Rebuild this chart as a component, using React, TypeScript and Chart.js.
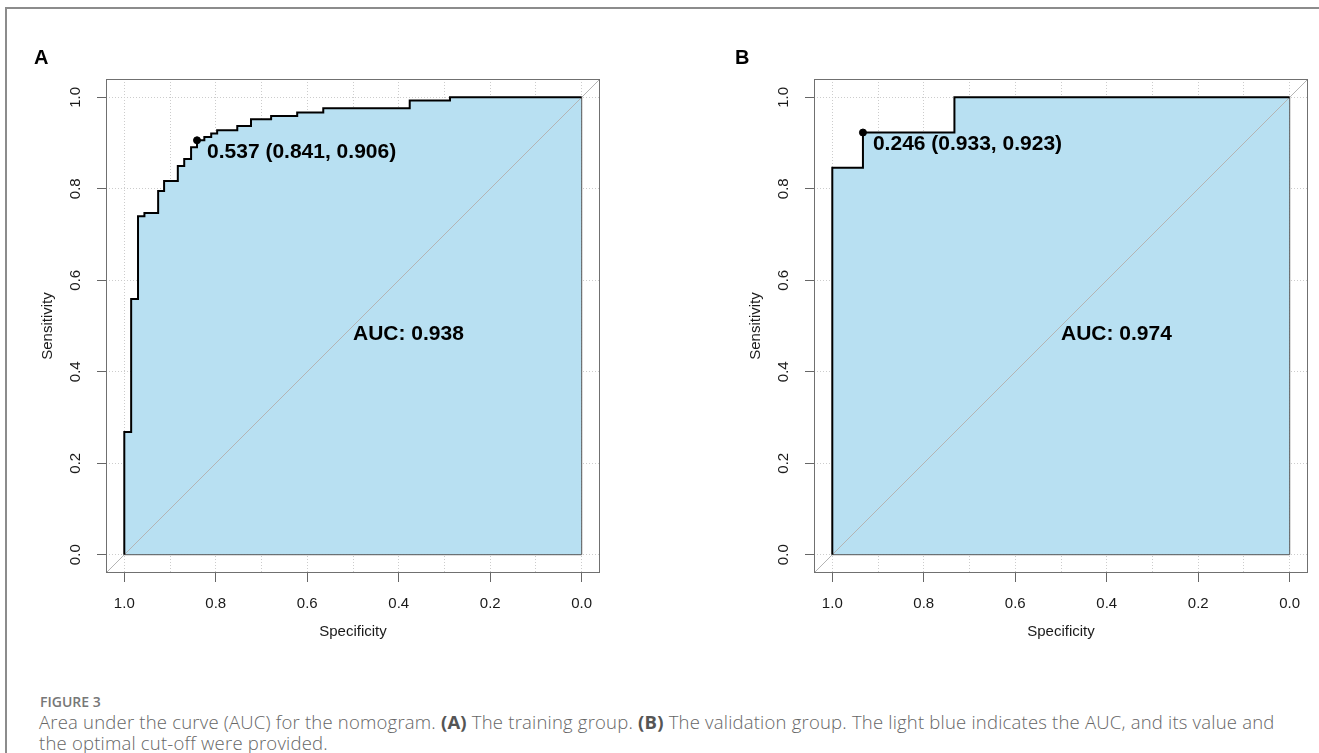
import React, { useEffect, useRef } from 'react';
import { Chart, registerables } from 'chart.js';

Chart.register(...registerables);

// ---------- data ----------
const TRAIN_SPECIFICITY = [1, 1, 0.985, 0.97, 0.956, 0.926, 0.913, 0.883, 0.869, 0.854, 0.841, 0.825, 0.81, 0.797, 0.753, 0.723, 0.679, 0.622, 0.565, 0.376, 0.288, 0];
const TRAIN_SENSITIVITY = [0, 0.268, 0.559, 0.74, 0.747, 0.795, 0.817, 0.85, 0.865, 0.891, 0.906, 0.913, 0.921, 0.928, 0.937, 0.952, 0.959, 0.967, 0.976, 0.993, 1, 1];
const VALID_SPECIFICITY = [1, 1, 0.933, 0.733, 0];
const VALID_SENSITIVITY = [0, 0.846, 0.923, 1, 1];

const PANEL_LABELS = ['A', 'B'];
const AUC_VALUES = [0.938, 0.974];
const CUTOFF_VALUES = [0.537, 0.246];
const CUTOFF_SPECIFICITY = [0.841, 0.933];
const CUTOFF_SENSITIVITY = [0.906, 0.923];

const AXIS_TICKS = [0, 0.2, 0.4, 0.6, 0.8, 1.0];
const X_GRID_TICKS = [0, 0.1, 0.2, 0.3, 0.4, 0.5, 0.6, 0.7, 0.8, 0.9, 1.0];
const X_TITLE = 'Specificity';
const Y_TITLE = 'Sensitivity';

// ---------- styles ----------
const FONT = '"Liberation Sans", Arial, Helvetica, sans-serif';
const TEXT_COLOR = '#1a1a1a';
const GRID_COLOR = '#cccccc';
const TICK_COLOR = '#666666';
const BOX_COLOR = '#707070';
const FILL_COLOR = '#b8e0f2';
const DIAG_COLOR = '#b4b4b4';

const isMajor = (v: any) => typeof v === 'number' && Math.abs(Math.round(v * 10)) % 2 === 0;

function RocPanel({ idx, left, width, padding }: { idx: number; left: number; width: number; padding: any }) {
  const ref = useRef<HTMLCanvasElement>(null);
  useEffect(() => {
    const spec = idx === 0 ? TRAIN_SPECIFICITY : VALID_SPECIFICITY;
    const sens = idx === 0 ? TRAIN_SENSITIVITY : VALID_SENSITIVITY;
    const curve = spec.map((s, i) => ({ x: s, y: sens[i] }));

    const textPlugin = {
      id: 'rocText' + idx,
      afterDraw(chart: any) {
        const { ctx, chartArea: a, scales } = chart;
        const xs = scales.x;
        const ys = scales.y;
        ctx.save();
        ctx.strokeStyle = BOX_COLOR;
        ctx.lineWidth = 1;
        ctx.setLineDash([]);
        ctx.strokeRect(a.left + 0.5, a.top + 0.5, a.right - a.left - 1, a.bottom - a.top - 1);

        ctx.fillStyle = TEXT_COLOR;
        ctx.font = `15px ${FONT}`;
        ctx.textAlign = 'center';
        ctx.textBaseline = 'middle';
        AXIS_TICKS.forEach((v) => {
          const py = ys.getPixelForValue(v);
          ctx.save();
          ctx.translate(a.left - 30, py);
          ctx.rotate(-Math.PI / 2);
          ctx.fillText(v.toFixed(1), 0, 0);
          ctx.restore();
        });

        ctx.font = `bold 21px ${FONT}`;
        ctx.textAlign = 'left';
        ctx.fillStyle = '#000';
        const px = xs.getPixelForValue(CUTOFF_SPECIFICITY[idx]);
        const py = ys.getPixelForValue(CUTOFF_SENSITIVITY[idx]);
        ctx.fillText(
          `${CUTOFF_VALUES[idx].toFixed(3)} (${CUTOFF_SPECIFICITY[idx].toFixed(3)}, ${CUTOFF_SENSITIVITY[idx].toFixed(3)})`,
          px + 10,
          py + 12
        );
        ctx.fillText(`AUC: ${AUC_VALUES[idx].toFixed(3)}`, xs.getPixelForValue(0.5), ys.getPixelForValue(0.5) + 8);
        ctx.restore();
      },
    };

    const chart = new Chart(ref.current as HTMLCanvasElement, {
      type: 'line',
      data: {
        datasets: [
          {
            label: 'Optimal cut-off',
            data: [{ x: CUTOFF_SPECIFICITY[idx], y: CUTOFF_SENSITIVITY[idx] }],
            showLine: false,
            pointRadius: 3.5,
            pointBackgroundColor: '#000',
            pointBorderColor: '#000',
            order: 0,
          },
          {
            label: 'ROC',
            data: curve,
            stepped: 'before',
            borderColor: '#000',
            borderWidth: 2,
            pointRadius: 0,
            fill: false,
            order: 1,
          },
          {
            label: 'Identity',
            data: [{ x: 1.04, y: -0.04 }, { x: -0.04, y: 1.04 }],
            borderColor: DIAG_COLOR,
            borderWidth: 1,
            pointRadius: 0,
            fill: false,
            order: 2,
          },
          {
            label: 'AUC border',
            data: [{ x: 1, y: 0 }, { x: 0, y: 0 }, { x: 0, y: 1 }],
            borderColor: '#555555',
            borderWidth: 1,
            pointRadius: 0,
            fill: false,
            order: 3,
          },
          {
            label: 'AUC',
            data: curve,
            stepped: 'before',
            borderWidth: 0,
            borderColor: 'rgba(0,0,0,0)',
            backgroundColor: FILL_COLOR,
            fill: { value: 0 },
            pointRadius: 0,
            order: 4,
          },
        ] as any,
      },
      options: {
        responsive: false,
        maintainAspectRatio: false,
        animation: false,
        events: [],
        layout: { padding },
        plugins: {
          legend: { display: false },
          tooltip: { enabled: false },
          title: { display: false },
        },
        scales: {
          x: {
            type: 'linear',
            min: -0.04,
            max: 1.04,
            bounds: 'data',
            reverse: true,
            afterBuildTicks: (s: any) => {
              s.ticks = X_GRID_TICKS.map((v) => ({ value: v }));
            },
            afterFit: (s: any) => {
              s.height = 68;
            },
            grid: {
              color: GRID_COLOR,
              lineWidth: 1,
              drawTicks: true,
              tickLength: 9,
              tickWidth: 1,
              tickColor: (c: any) => (c.tick && isMajor(c.tick.value) ? TICK_COLOR : 'rgba(0,0,0,0)'),
            },
            border: { display: false, dash: [1, 2] },
            ticks: {
              autoSkip: false,
              maxRotation: 0,
              minRotation: 0,
              padding: 13,
              color: TEXT_COLOR,
              font: { family: FONT, size: 15 },
              callback: (v: any) => (isMajor(v) ? Number(v).toFixed(1) : ''),
            },
            title: {
              display: true,
              text: X_TITLE,
              color: TEXT_COLOR,
              font: { family: FONT, size: 15 },
              padding: 0,
            },
          },
          y: {
            type: 'linear',
            min: -0.04,
            max: 1.04,
            bounds: 'data',
            afterBuildTicks: (s: any) => {
              s.ticks = AXIS_TICKS.map((v) => ({ value: v }));
            },
            afterFit: (s: any) => {
              s.width = 67;
            },
            grid: {
              color: GRID_COLOR,
              lineWidth: 1,
              drawTicks: true,
              tickLength: 9,
              tickWidth: 1,
              tickColor: TICK_COLOR,
            },
            border: { display: false, dash: [1, 2] },
            ticks: { display: false },
            title: {
              display: true,
              text: Y_TITLE,
              color: TEXT_COLOR,
              font: { family: FONT, size: 15 },
              padding: 0,
            },
          },
        },
      } as any,
      plugins: [textPlugin],
    });
    return () => chart.destroy();
  }, [idx]);

  return (
    <canvas
      ref={ref}
      width={width}
      height={660}
      style={{ position: 'absolute', left, top: 0, width, height: 660 }}
    />
  );
}

export default function App() {
  const captionStyle: React.CSSProperties = {
    position: 'absolute',
    left: 39,
    fontFamily: '"Open Sans", "Noto Sans", sans-serif',
    fontSize: 18.5,
    letterSpacing: '0.2px',
    lineHeight: '21px',
    color: '#666666',
    fontWeight: 300,
    whiteSpace: 'nowrap',
  };
  return (
    <div
      style={{
        position: 'absolute',
        left: 0,
        top: 0,
        width: 1319,
        height: 753,
        overflow: 'hidden',
        background: '#ffffff',
      }}
    >
      <div
        style={{
          position: 'absolute',
          left: 5,
          top: 7,
          width: 1400,
          height: 800,
          borderLeft: '2px solid #8c8c8c',
          borderTop: '2px solid #8c8c8c',
        }}
      />
      <RocPanel idx={0} left={0} width={660} padding={{ left: 39, right: 60, top: 79, bottom: 19 }} />
      <RocPanel idx={1} left={660} width={659} padding={{ left: 87, right: 11, top: 79, bottom: 19 }} />
      {PANEL_LABELS.map((t, i) => (
        <div
          key={t}
          style={{
            position: 'absolute',
            left: i === 0 ? 34 : 735,
            top: 46,
            fontFamily: FONT,
            fontWeight: 'bold',
            fontSize: 20,
            lineHeight: '22px',
            color: '#000',
          }}
        >
          {t}
        </div>
      ))}
      <div
        style={{
          position: 'absolute',
          left: 40,
          top: 693,
          fontFamily: '"Open Sans", "Noto Sans", sans-serif',
          fontSize: 14,
          lineHeight: '18px',
          fontWeight: 600,
          color: '#777777',
        }}
      >
        FIGURE 3
      </div>
      <div style={{ ...captionStyle, top: 711 }}>
        Area under the curve (AUC) for the nomogram. <b style={{ fontWeight: 700, color: '#555' }}>(A)</b> The training group.{' '}
        <b style={{ fontWeight: 700, color: '#555' }}>(B)</b> The validation group. The light blue indicates the AUC, and its value and
      </div>
      <div style={{ ...captionStyle, top: 732 }}>the optimal cut-off were provided.</div>
    </div>
  );
}
